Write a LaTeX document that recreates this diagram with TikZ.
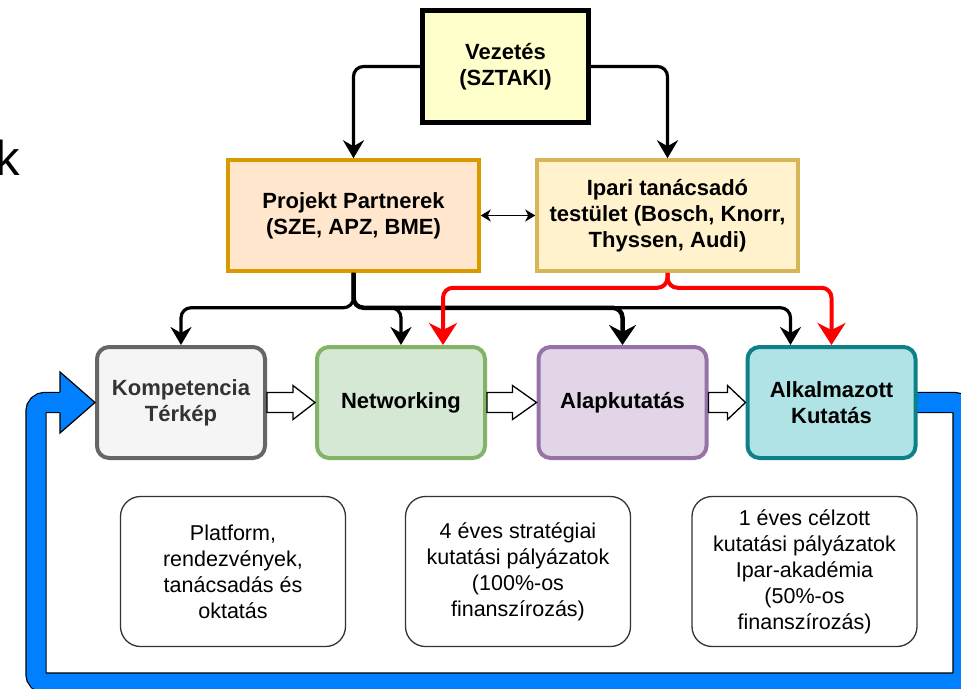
\documentclass[tikz,border=0pt]{standalone}
\usepackage{fontspec}
\setmainfont{Liberation Sans}
\usetikzlibrary{arrows.meta,calc,backgrounds}
\definecolor{vzfill}{HTML}{FFFFCC}
\definecolor{ppfill}{HTML}{FFE6CC}
\definecolor{ppdraw}{HTML}{D79B00}
\definecolor{ipfill}{HTML}{FFF2CC}
\definecolor{ipdraw}{HTML}{D6B656}
\definecolor{ktfill}{HTML}{F5F5F5}
\definecolor{ktdraw}{HTML}{666666}
\definecolor{kttext}{HTML}{333333}
\definecolor{nwfill}{HTML}{D5E8D4}
\definecolor{nwdraw}{HTML}{82B366}
\definecolor{alfill}{HTML}{E1D5E7}
\definecolor{aldraw}{HTML}{9673A6}
\definecolor{akfill}{HTML}{B0E3E6}
\definecolor{akdraw}{HTML}{0E8088}
\definecolor{notedraw}{HTML}{333333}
\definecolor{loopblue}{HTML}{007FFF}
\definecolor{redline}{HTML}{FF0000}
\newcommand{\whitearrow}[3]{%
  \draw[warrow] ($(#1.east)+(0,-10)$) -- ($(#2.west)+(-#3,-10)$) -- ($(#2.west)+(-#3,-17)$) -- (#2.west)
    -- ($(#2.west)+(-#3,17)$) -- ($(#2.west)+(-#3,10)$) -- ($(#1.east)+(0,10)$) -- cycle;}
\begin{document}
\begin{tikzpicture}[x=1pt,y=-1pt,
  boldtxt/.style={font=\fontsize{22}{26}\selectfont\bfseries},
  topbox/.style={draw, rectangle, align=center, boldtxt, inner sep=0pt},
  rbox/.style={draw, rectangle, rounded corners=12pt, line width=4pt, align=center, boldtxt,
    minimum width=168pt, minimum height=111pt, inner sep=0pt},
  notebox/.style={draw=notedraw, rectangle, line width=1.3pt, rounded corners=20pt,
    minimum width=225pt, minimum height=150pt, align=center, inner sep=0pt,
    font=\fontsize{21.5}{26}\selectfont},
  blk/.style={line width=3.2pt, rounded corners=10pt, -{Stealth[length=18pt,width=21pt,inset=6pt]}},
  blkthick/.style={line width=4.5pt, rounded corners=10pt, -{Stealth[length=20pt,width=27pt,inset=7pt]}},
  redarr/.style={draw=redline, line width=4pt, rounded corners=10pt,
    -{Stealth[length=22pt,width=28pt,inset=7pt]}},
  dbl/.style={line width=1.5pt, {Stealth[length=10pt,width=12pt,inset=3pt]}-{Stealth[length=10pt,width=12pt,inset=3pt]}},
  warrow/.style={draw=black, fill=white, line width=1.3pt, line join=miter},
]
\useasboundingbox (0,0) rectangle (961,688);

% partial large letter at left edge
\node[anchor=base west, inner sep=0pt, font=\fontsize{49}{49}\selectfont] (kletter) at (-5,175) {k};

% top boxes
\node[topbox, line width=4.5pt, fill=vzfill, minimum width=166pt, minimum height=112pt] (vz) at (505.5,66.5) {Vezetés\\(SZTAKI)};
\node[topbox, line width=3.5pt, draw=ppdraw, fill=ppfill, minimum width=251pt, minimum height=111pt] (pp) at (353.5,215.5) {Projekt Partnerek\\(SZE, APZ, BME)};
\node[topbox, line width=3.5pt, draw=ipdraw, fill=ipfill, minimum width=261pt, minimum height=111pt] (ip) at (667.5,215.5) {Ipari tanácsadó\\testület (Bosch, Knorr,\\Thyssen, Audi)};

% activity boxes
\node[rbox, draw=ktdraw, fill=ktfill, text=kttext] (kt) at (181,402.5) {Kompetencia\\Térkép};
\node[rbox, draw=nwdraw, fill=nwfill] (nw) at (401,402.5) {Networking};
\node[rbox, draw=aldraw, fill=alfill] (al) at (622.5,402.5) {Alapkutatás};
\node[rbox, draw=akdraw, fill=akfill] (ak) at (831.5,402.5) {Alkalmazott\\Kutatás};

% note boxes
\node[notebox] (b1) at (233,571.5) {Platform,\\rendezvények,\\tanácsadás és\\oktatás};
\node[notebox] (b2) at (518,571.5) {4 éves stratégiai\\kutatási pályázatok\\(100\%-os\\finanszírozás)};
\node[notebox] (b3) at (804.5,571.5) {1 éves célzott\\kutatási pályázatok\\Ipar-akadémia\\(50\%-os\\finanszírozás)};

% leadership arrows
\draw[blk] (vz.west) -| (pp.north);
\draw[blk] (vz.east) -| (ip.north);
\draw[dbl] (pp.east) -- (ip.west);

% partner arrows
\draw[blk] (pp.south) -- ++(0,35) -| (kt.north);
\draw[blk] (pp.south) -- ++(0,35) -| (nw.north);
\draw[blk] (pp.south) -- ++(0,35) -| ($(ak.north)+(-41,0)$);
\draw[blkthick] (pp.south) -- ++(0,35) -| (al.north);

% industry board arrows
\draw[redarr] (ip.south) -- ++(0,15) -| ($(nw.north)+(42,0)$);
\draw[redarr] (ip.south) -- ++(0,15) -| (ak.north);

% white block arrows
\whitearrow{kt}{nw}{22}
\whitearrow{nw}{al}{24}
\whitearrow{al}{ak}{18}

% feedback loop
\coordinate (l1) at (963,402.5);
\coordinate (l2) at (963,683);
\coordinate (l3) at (36,683);
\coordinate (l4) at (36,402.5);
\coordinate (l5) at (66,402.5);
\begin{scope}[on background layer]
\draw[line width=1.2pt, draw=black, double=loopblue, double distance=19pt, rounded corners=9pt]
  (ak.center) -- (l1) -- (l2) -- (l3) -- (l4) -- (l5);
\end{scope}
\coordinate (h1) at (60,372);
\coordinate (h2) at (60,433);
\coordinate (h3) at (60,391.9);
\coordinate (h4) at (60,413.1);
\fill[loopblue] (h1) -- (kt.west) -- (h2) -- cycle;
\draw[line width=1.2pt, line join=miter] (h3) -- (h1) -- (kt.west) -- (h2) -- (h4);
\end{tikzpicture}
\end{document}
